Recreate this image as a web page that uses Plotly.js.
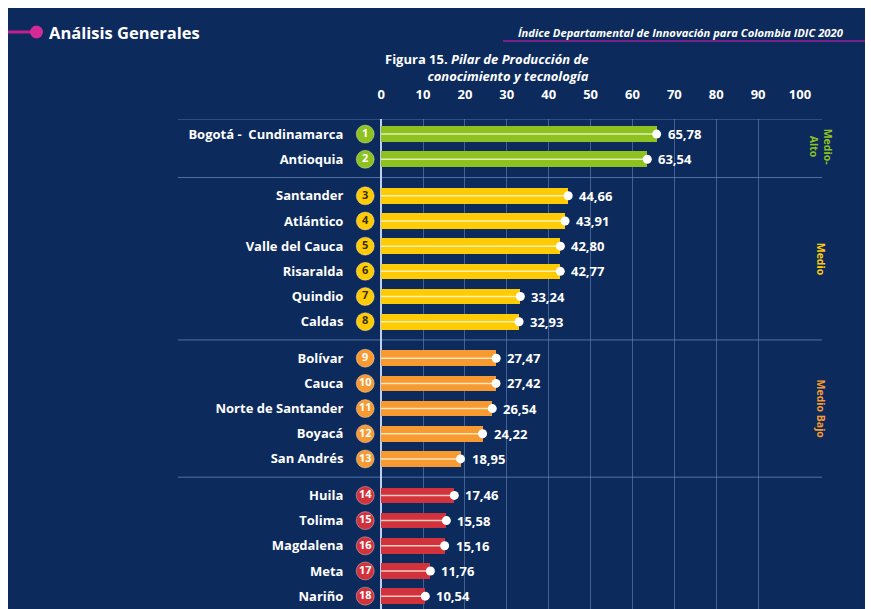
<!DOCTYPE html>
<html><head><meta charset="utf-8">
<script src="https://cdn.plot.ly/plotly-3.0.1.min.js"></script>
<style>html,body{margin:0;padding:0;background:#fff;overflow:hidden;} #chart{position:absolute;left:8px;top:8px;width:857px;height:601px;}</style>
</head><body><div id="chart"></div>
<script>
// ---- data ----
const departments = ['Bogotá -  Cundinamarca','Antioquia','Santander','Atlántico','Valle del Cauca','Risaralda','Quindio','Caldas','Bolívar','Cauca','Norte de Santander','Boyacá','San Andrés','Huila','Tolima','Magdalena','Meta','Nariño'];
const ranks = [1,2,3,4,5,6,7,8,9,10,11,12,13,14,15,16,17,18];
const scores = [65.78,63.54,44.66,43.91,42.80,42.77,33.24,32.93,27.47,27.42,26.54,24.22,18.95,17.46,15.58,15.16,11.76,10.54];
const levels = ['Medio-Alto','Medio-Alto','Medio','Medio','Medio','Medio','Medio','Medio','Medio Bajo','Medio Bajo','Medio Bajo','Medio Bajo','Medio Bajo','Bajo','Bajo','Bajo','Bajo','Bajo'];
const levelNames = ['Medio-Alto','Medio','Medio Bajo','Bajo'];
const levelLabels = ['Medio-<br>Alto','Medio','Medio Bajo',''];
const tickValues = [0,10,20,30,40,50,60,70,80,90,100];

// ---- styles ----
const BG = '#0c2a5c';
const FONT = '"Open Sans", Lato, sans-serif';
const levelColors = {'Medio-Alto':'#8dc21f','Medio':'#ffcb05','Medio Bajo':'#f79a32','Bajo':'#d2323c'};
const rankTextColors = {'Medio-Alto':'#ffffff','Medio':'#3a2e00','Medio Bajo':'#ffffff','Bajo':'#ffffff'};
const GAP = 0.45;
const yPos = departments.map((d,i)=> i + levelNames.indexOf(levels[i])*GAP);
const rowColors = levels.map(l=>levelColors[l]);

// plot area geometry (page pixels)
const XMIN = -6;
const ML = 348, MT = 111, MR = 65;
const L = ML+8, PW = 857-ML-MR, T = MT+8, PH = 601-MT;
const px = x => (x - L)/PW;
const py = y => 1 - (y - T)/PH;

const fmt = v => v.toFixed(2).replace('.', ',');

const hiX=[], hiY=[];
scores.forEach((v,i)=>{hiX.push(0,v,null); hiY.push(yPos[i],yPos[i],null);});

const traces = [
  {type:'bar', orientation:'h', x:scores, y:yPos, width:0.62,
   marker:{color:rowColors, line:{width:0}}, hoverinfo:'skip', showlegend:false},
  {type:'scatter', mode:'lines', x:hiX, y:hiY, line:{color:'rgba(255,255,235,0.75)', width:1.5},
   hoverinfo:'skip', showlegend:false},
  {type:'scatter', mode:'markers', x:scores, y:yPos,
   marker:{color:'#ffffff', size:9}, cliponaxis:false, hoverinfo:'skip', showlegend:false},
  {type:'scatter', mode:'markers+text', x:ranks.map(()=>-3.8), y:yPos, text:ranks.map(String),
   textposition:'middle center', textfont:{color:levels.map(l=>rankTextColors[l]), size:11, family:FONT, weight:'bold'},
   marker:{color:rowColors, size:18, line:{color:'rgba(255,255,255,0.35)', width:1}},
   cliponaxis:false, hoverinfo:'skip', showlegend:false}
];

// separators
const seps = [yPos[0]-0.6];
for (let i=1;i<yPos.length;i++){ if (levels[i]!==levels[i-1]) seps.push((yPos[i]+yPos[i-1])/2); }

const shapes = seps.map(s=>({type:'line', xref:'paper', yref:'y', x0:px(178), x1:px(822), y0:s, y1:s,
  line:{color:'rgba(110,145,200,0.7)', width:1}, layer:'below'}));
shapes.push({type:'line', xref:'paper', yref:'paper', x0:px(8), x1:px(32), y0:py(32), y1:py(32), line:{color:'#c41f8e', width:3}});
shapes.push({type:'circle', xref:'paper', yref:'paper', x0:px(30), x1:px(43), y0:py(38.5), y1:py(25.5), fillcolor:'#d42a97', line:{width:0}});
shapes.push({type:'line', xref:'paper', yref:'paper', x0:px(503), x1:px(865), y0:py(41), y1:py(41), line:{color:'#9b1f9b', width:1.5}});

const annotations = [
  {xref:'paper', yref:'paper', x:px(47), y:py(32), xanchor:'left', yanchor:'middle', showarrow:false,
   text:'<b>Análisis Generales</b>', font:{color:'#ffffff', size:16.5, family:FONT}},
  {xref:'paper', yref:'paper', x:px(846), y:py(32), xanchor:'right', yanchor:'middle', showarrow:false,
   text:'<b><i>Índice Departamental de Innovación para Colombia IDIC 2020</i></b>', font:{color:'#ffffff', size:11.2, family:FONT}},
  {xref:'paper', yref:'paper', x:px(591), y:py(67.5), xanchor:'right', yanchor:'middle', align:'right', showarrow:false,
   text:'<b>Figura 15. <i>Pilar de Producción de</i></b><br><b><i>conocimiento y tecnología</i></b>',
   font:{color:'#ffffff', size:13, family:FONT}}
];
// value labels, placed through the data axes
scores.forEach((v,i)=>annotations.push({xref:'x', yref:'y', x:v, y:yPos[i], xanchor:'left', yanchor:'middle', xshift:9,
  showarrow:false, text:'<b>'+fmt(v)+'</b>', font:{color:'#ffffff', size:13, family:FONT}}));
levelNames.forEach((lv,g)=>{
  if(!levelLabels[g]) return;
  const ys = yPos.filter((_,i)=>levels[i]===lv);
  annotations.push({xref:'paper', yref:'y', x:px(821), y:(ys[0]+ys[ys.length-1])/2, xanchor:'center', yanchor:'middle',
    showarrow:false, textangle:90, text:'<b>'+levelLabels[g]+'</b>', font:{color:levelColors[lv], size:10.5, family:FONT}});
});

const layout = {
  width:857, height:601, paper_bgcolor:BG, plot_bgcolor:BG,
  margin:{l:ML, r:MR, t:MT, b:0}, showlegend:false, bargap:0,
  xaxis:{side:'top', range:[XMIN,100], tickvals:tickValues, ticks:'outside', ticklen:14, tickcolor:'rgba(0,0,0,0)',
    tickfont:{color:'#ffffff', size:13, family:FONT, weight:'bold'}, showgrid:true, gridcolor:'rgba(110,140,195,0.55)', gridwidth:1,
    zeroline:true, zerolinecolor:'rgba(210,225,255,0.9)', zerolinewidth:1.5, showline:false, fixedrange:true},
  yaxis:{range:[18.86,-0.6], tickvals:yPos, ticktext:departments, ticks:'outside', ticklen:9, tickcolor:'rgba(0,0,0,0)',
    tickfont:{color:'#ffffff', size:13, family:FONT, weight:'bold'}, showgrid:false, zeroline:false, showline:false, fixedrange:true},
  shapes:shapes, annotations:annotations
};
Plotly.newPlot('chart', traces, layout, {displayModeBar:false, staticPlot:true});
</script></body></html>
